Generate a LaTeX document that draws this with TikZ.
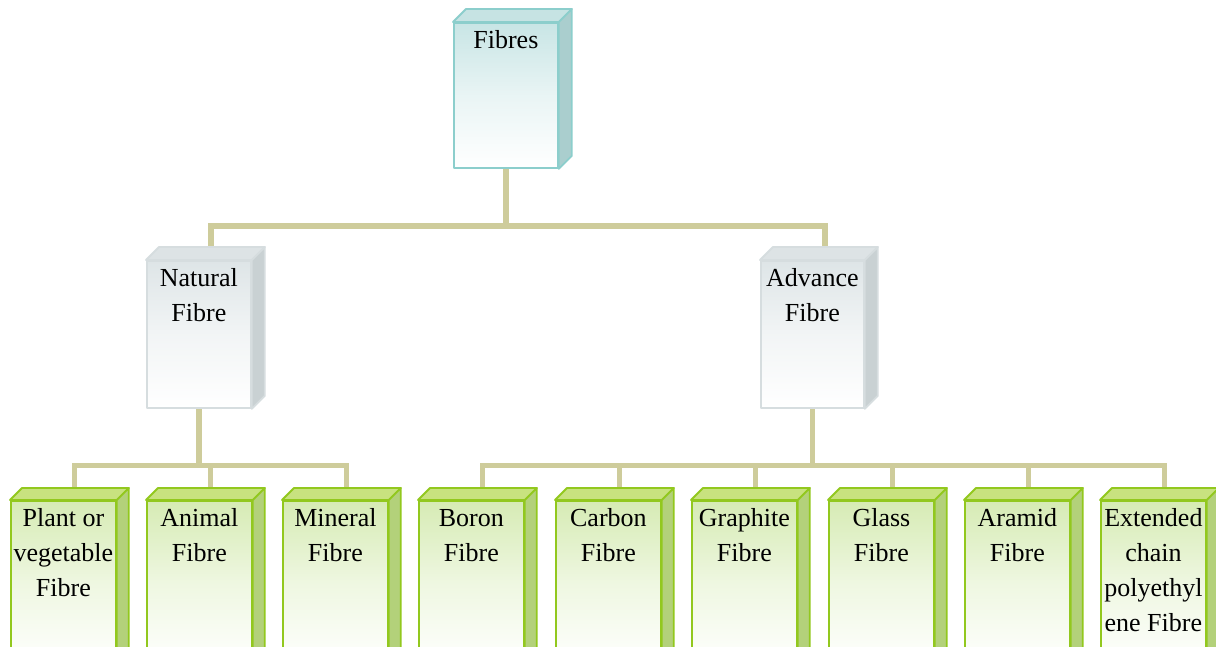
\documentclass[tikz,border=0pt]{standalone}
\usepackage{fontspec}
\setmainfont{Liberation Serif}
\usetikzlibrary{calc,backgrounds}
\definecolor{conncol}{RGB}{206,204,155}
\definecolor{tealedge}{RGB}{140,206,204}
\definecolor{tealtop}{RGB}{200,229,229}
\definecolor{tealtopface}{RGB}{198,227,227}
\definecolor{tealside}{RGB}{170,206,206}
\definecolor{grayedge}{RGB}{214,221,223}
\definecolor{graytop}{RGB}{222,229,231}
\definecolor{graytopface}{RGB}{221,227,229}
\definecolor{grayside}{RGB}{201,209,211}
\definecolor{greenedge}{RGB}{146,200,30}
\definecolor{greentop}{RGB}{214,235,180}
\definecolor{greentopface}{RGB}{200,226,127}
\definecolor{greenside}{RGB}{179,209,122}
\tikzset{
  conn/.style={draw=conncol, line width=5.5pt, line join=miter},
  face/.style={line width=1.8pt, line join=round},
  tealfront/.style={face, draw=tealedge, top color=tealtop, bottom color=white, middle color=white!60!tealtop},
  tealtopf/.style={face, draw=tealedge, fill=tealtopface},
  tealsidef/.style={face, draw=tealedge, fill=tealside},
  grayfront/.style={face, draw=grayedge, top color=graytop, bottom color=white, middle color=white!60!graytop},
  graytopf/.style={face, draw=grayedge, fill=graytopface},
  graysidef/.style={face, draw=grayedge, fill=grayside},
  greenfront/.style={face, draw=greenedge, top color=greentop, bottom color=white, middle color=white!60!greentop},
  greentopf/.style={face, draw=greenedge, fill=greentopface},
  greensidef/.style={face, draw=greenedge, fill=greenside},
  lbl/.style={anchor=base, inner sep=0pt},
}
% #1 name, #2 x, #3 y, #4 width, #5 height, #6 colour prefix, #7 depth, #8 text
\newcommand\cubenode[8]{%
  \node[#6front, minimum width=#4pt, minimum height=#5pt, anchor=north west, inner sep=0pt] (#1) at (#2,#3) {};
  \path[#6topf] (#1.north west) -- ([shift={(#7,-#7)}]#1.north west) -- ([shift={(#7,-#7)}]#1.north east) -- (#1.north east) -- cycle;
  \path[#6sidef] (#1.north east) -- ([shift={(#7,-#7)}]#1.north east) -- ([shift={(#7,-#7)}]#1.south east) -- (#1.south east) -- cycle;
  \node[lbl] (#1t) at ([shift={(0,26)}]#1.north) {\parbox[t]{150pt}{\centering\fontsize{26}{35}\selectfont #8}};
}
\begin{document}
\begin{tikzpicture}[x=1pt,y=-1pt]
\useasboundingbox (0,0) rectangle (1216,646);
\clip (0,0) rectangle (1216,646);
\cubenode{fib}{453}{22}{104}{145}{teal}{13}{Fibres}
\cubenode{nat}{146}{260}{104}{147}{gray}{13}{Natural\\Fibre}
\cubenode{adv}{760}{260}{103}{147}{gray}{13}{Advance\\Fibre}
\cubenode{b1}{10}{500}{105}{165}{green}{12}{Plant or\\vegetable\\Fibre}
\cubenode{b2}{146}{500}{105}{165}{green}{12}{Animal\\Fibre}
\cubenode{b3}{282}{500}{105}{165}{green}{12}{Mineral\\Fibre}
\cubenode{b4}{418}{500}{105}{165}{green}{12}{Boron\\Fibre}
\cubenode{b5}{555}{500}{105}{165}{green}{12}{Carbon\\Fibre}
\cubenode{b6}{691}{500}{105}{165}{green}{12}{Graphite\\Fibre}
\cubenode{b7}{828}{500}{105}{165}{green}{12}{Glass\\Fibre}
\cubenode{b8}{964}{500}{105}{165}{green}{12}{Aramid\\Fibre}
\cubenode{b9}{1100}{500}{105}{165}{green}{12}{Extended\\chain\\polyethyl\\ene Fibre}
\begin{scope}[on background layer]
  \fill[white] (0,0) rectangle (1216,646);
  \draw[conn] (fib.south) -- ++(0,57) coordinate (j0);
  \draw[conn] ($(nat.north west)+(65,-13)$) |- (j0) -| ($(adv.north west)+(65,-13)$);
  \draw[conn] (nat.south) -- ++(0,56.5) coordinate (j1);
  \draw[conn] ($(b1.north west)+(64.5,-12)$) |- (j1) -| ($(b3.north west)+(64.5,-12)$);
  \draw[conn] (j1) -| ($(b2.north west)+(64.5,-12)$);
  \draw[conn] (adv.south) -- ++(0,56.5) coordinate (j2);
  \draw[conn] ($(b4.north west)+(64.5,-12)$) |- (j2) -| ($(b9.north west)+(64.5,-12)$);
  \draw[conn] (j2) -| ($(b5.north west)+(64.5,-12)$);
  \draw[conn] (j2) -| ($(b6.north west)+(64.5,-12)$);
  \draw[conn] (j2) -| ($(b7.north west)+(64.5,-12)$);
  \draw[conn] (j2) -| ($(b8.north west)+(64.5,-12)$);
\end{scope}
\end{tikzpicture}
\end{document}
